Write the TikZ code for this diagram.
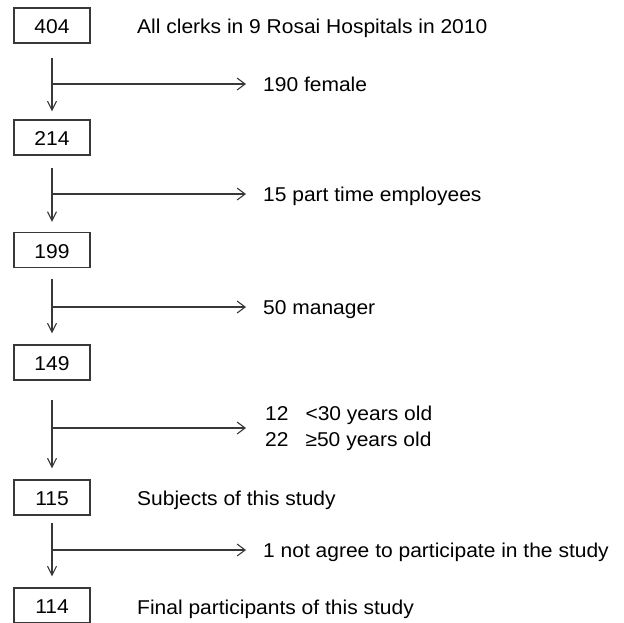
\documentclass[tikz,border=0pt]{standalone}
\usepackage{fontspec}
\setmainfont{Liberation Sans}[FakeStretch=1.05]
\usetikzlibrary{arrows.meta}
\begin{document}
\begin{tikzpicture}[x=1pt,y=-1pt,
  font=\fontsize{20}{26}\selectfont,
  linecol/.style={draw=black!78, line width=1.1pt},
  countbox/.style={linecol, minimum width=76pt, minimum height=35pt, inner sep=0pt, text height=16.4pt, text depth=0pt},
  sidelabel/.style={anchor=base west, inner sep=0pt},
  exclabel/.style={anchor=west, inner sep=0pt, text height=14.3pt, text depth=0pt},
  vline/.style={linecol, -{Straight Barb[length=9pt,width=9pt]}},
  hline/.style={linecol, -{Straight Barb[length=8pt,width=12pt]}, shorten >=17pt}
]
\useasboundingbox (0,0) rectangle (624,622);

% count boxes
\node[countbox] (b1) at (52,25.5) {404};
\node[countbox] (b2) at (52,137.5) {214};
\node[countbox] (b3) at (52,250) {199};
\node[countbox] (b4) at (52,362.5) {149};
\node[countbox] (b5) at (52,497.5) {115};
\node[countbox] (b6) at (52,605.5) {114};

% side labels
\node[sidelabel] (s1) at (137,33.5) {All clerks in 9 Rosai Hospitals in 2010};
\node[sidelabel] (s5) at (137,505) {Subjects of this study};
\node[sidelabel] (s6) at (137,614.5) {Final participants of this study};

% exclusion labels
\node[exclabel] (e1) at (263,84) {190 female};
\node[exclabel] (e2) at (263,194) {15 part time employees};
\node[exclabel] (e3) at (263,307) {50 manager};
\node[anchor=west, inner sep=0pt, align=left] (e4) at (265,428) {12\hspace{17pt}<30 years old\\22\hspace{17pt}≥50 years old};
\node[exclabel] (e5) at (263,550) {1 not agree to participate in the study};

% vertical flow
\draw[vline, shorten <=14pt, shorten >=8pt] (b1) -- (b2);
\draw[vline, shorten <=12pt, shorten >=10pt] (b2) -- (b3);
\draw[vline, shorten <=11pt, shorten >=11pt] (b3) -- (b4);
\draw[vline, shorten <=19pt, shorten >=11pt] (b4) -- (b5);
\draw[vline, shorten <=7pt, shorten >=11pt] (b5) -- (b6);

% branches
\draw[hline] (e1 -| b1) -- (e1);
\draw[hline] (e2 -| b2) -- (e2);
\draw[hline] (e3 -| b3) -- (e3);
\draw[hline, shorten >=19pt] (e4 -| b4) -- (e4);
\draw[hline] (e5 -| b5) -- (e5);
\end{tikzpicture}
\end{document}
